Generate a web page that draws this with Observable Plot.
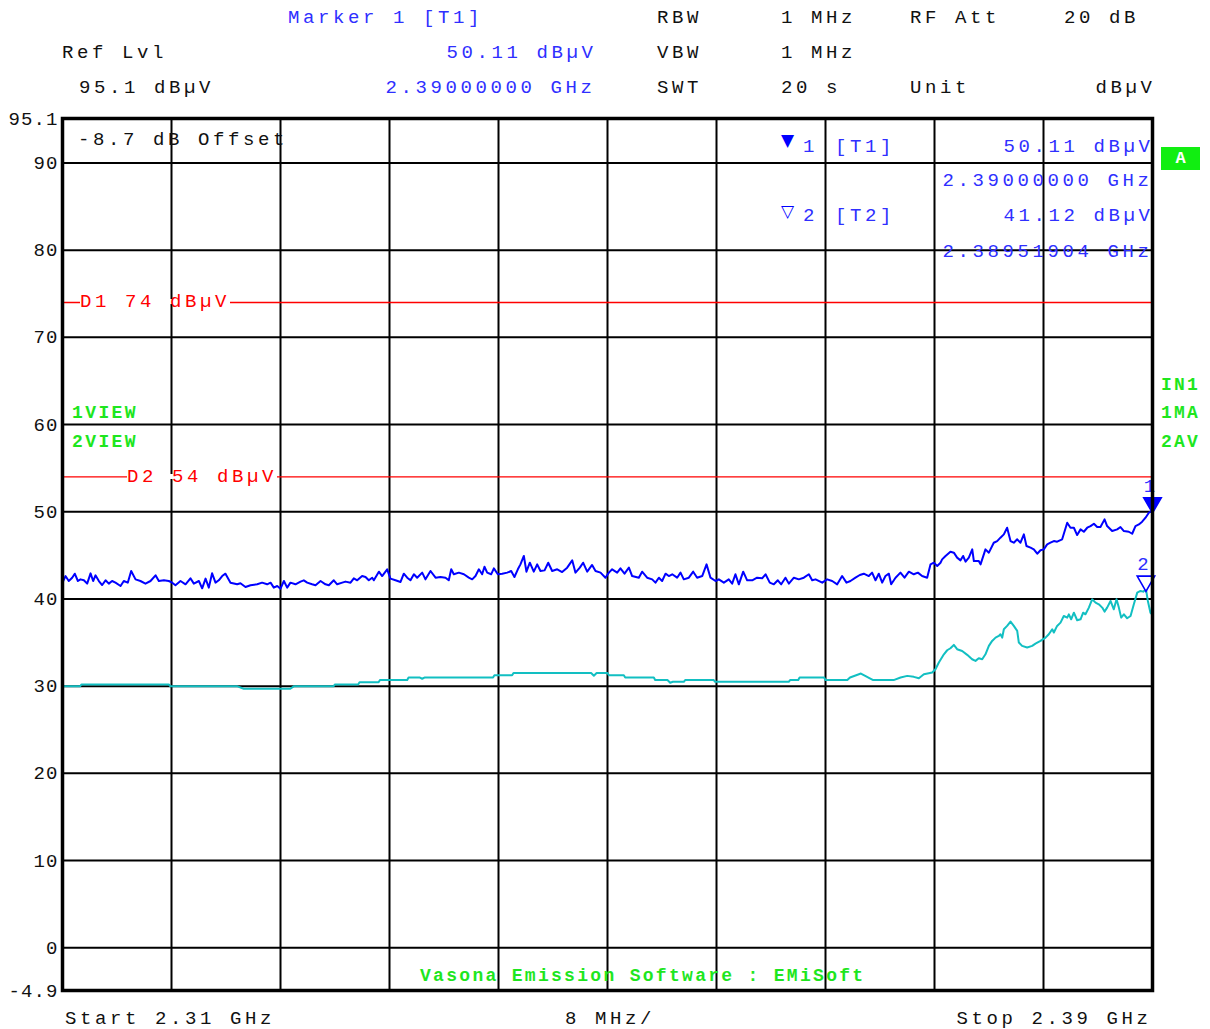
<!DOCTYPE html>
<html>
<head>
<meta charset="utf-8">
<script src="https://cdn.jsdelivr.net/npm/d3@7"></script>
<script src="https://cdn.jsdelivr.net/npm/@observablehq/plot@0.6"></script>
<style>
  html, body { margin: 0; padding: 0; background: #fff; }
  #wrap { position: relative; width: 1210px; height: 1029px; overflow: hidden; background: #fff; }
  #wrap svg { display: block; }
  .lbl { position: absolute; white-space: pre; font-family: "Liberation Mono", monospace; line-height: 19px; font-size: 19px; letter-spacing: 3.6px; color: #111; }
  .ytick text { letter-spacing: 1.1px; }
</style>
</head>
<body>
<div id="wrap"></div>
<script>
// ---- data ----
const startMHz = 2310, stopMHz = 2390;
// Trace 1 (max hold, 1MA): frequency (MHz) and level (dBµV)
const trace1Freq = [
  2310.00, 2310.22, 2310.46, 2310.71, 2310.90, 2311.13, 2311.32, 2311.57, 2311.81, 2312.06,
  2312.25, 2312.42, 2312.67, 2312.91, 2313.16, 2313.40, 2313.64, 2313.89, 2314.26, 2314.50,
  2314.79, 2315.04, 2315.36, 2315.72, 2316.09, 2316.46, 2316.83, 2317.07, 2317.44, 2317.80,
  2318.05, 2318.29, 2318.66, 2319.03, 2319.39, 2319.64, 2320.01, 2320.25, 2320.50, 2320.74,
  2320.98, 2321.23, 2321.47, 2321.72, 2321.96, 2322.33, 2322.82, 2323.06, 2323.43, 2323.80,
  2324.29, 2324.65, 2325.02, 2325.27, 2325.51, 2325.76, 2326.00, 2326.25, 2326.49, 2326.73,
  2327.10, 2327.47, 2327.71, 2327.96, 2328.32, 2328.57, 2328.94, 2329.30, 2329.55, 2329.91,
  2330.16, 2330.53, 2330.77, 2331.14, 2331.38, 2331.63, 2331.99, 2332.24, 2332.48, 2332.73,
  2332.85, 2333.22, 2333.46, 2333.83, 2334.07, 2334.44, 2334.81, 2335.05, 2335.30, 2335.54,
  2335.79, 2336.03, 2336.40, 2336.64, 2337.01, 2337.38, 2337.74,
  2338.11, 2338.35, 2338.53, 2338.72, 2339.09, 2339.46, 2339.82, 2340.07, 2340.31, 2340.56,
  2340.80, 2340.97, 2341.17, 2341.46, 2341.66, 2341.95, 2342.27, 2342.64, 2342.93, 2343.17,
  2343.42, 2343.61, 2343.86, 2344.05, 2344.30, 2344.59, 2344.84, 2345.08, 2345.38, 2345.65,
  2345.94, 2346.31, 2346.67, 2347.04, 2347.41, 2347.65, 2347.97, 2348.21, 2348.51, 2348.87,
  2349.12, 2349.49, 2349.85, 2350.10, 2350.34, 2350.71, 2350.95, 2351.25, 2351.57, 2351.81,
  2352.30, 2352.54, 2352.91, 2353.28, 2353.52, 2353.77, 2354.01, 2354.26, 2354.50, 2354.75,
  2355.11, 2355.36, 2355.60, 2355.97, 2356.29, 2356.58, 2356.95, 2357.27, 2357.56, 2357.93,
  2358.17, 2358.54, 2358.90, 2359.15, 2359.39, 2359.64, 2359.96, 2360.25, 2360.62, 2360.98,
  2361.35, 2361.60, 2361.91, 2362.21, 2362.50, 2362.75, 2363.06, 2363.31, 2363.68, 2364.04,
  2364.41, 2364.78, 2365.02, 2365.27, 2365.76, 2366.12, 2366.49, 2366.86, 2367.22, 2367.54,
  2367.83, 2368.20, 2368.52, 2368.81, 2369.18, 2369.42, 2369.67, 2369.91, 2370.16, 2370.40,
  2370.65, 2370.82, 2371.14, 2371.50, 2371.80, 2372.12, 2372.48, 2372.78, 2373.09, 2373.46,
  2373.71, 2373.95, 2374.20, 2374.44,
  2374.56, 2374.81, 2375.17, 2375.42, 2375.66, 2375.91, 2376.10, 2376.28, 2376.52, 2376.77,
  2376.89, 2377.25, 2377.38, 2377.74, 2377.99, 2378.35, 2378.60, 2378.84, 2379.09, 2379.33,
  2379.58, 2379.82, 2380.07, 2380.31, 2380.56, 2380.75, 2381.05, 2381.29, 2381.54, 2381.78,
  2382.02, 2382.27, 2382.51, 2382.76, 2383.00, 2383.37, 2383.74, 2383.98, 2384.23, 2384.47,
  2384.72, 2384.96, 2385.21, 2385.45, 2385.70, 2385.94, 2386.18, 2386.48, 2386.67, 2387.04,
  2387.41, 2387.65, 2387.90, 2388.26, 2388.51, 2388.75, 2389.00, 2389.24, 2389.49, 2389.73, 2390.00
];
const trace1Vals = [
  41.87, 42.63, 42.06, 42.44, 42.90, 42.06, 42.25, 42.14, 41.76, 42.94,
  42.06, 42.71, 42.06, 41.60, 42.14, 41.76, 42.06, 41.87, 41.49, 42.06,
  41.87, 43.21, 42.25, 42.06, 41.76, 42.06, 42.71, 42.06, 42.14, 42.06,
  41.87, 41.57, 42.06, 41.68, 42.37, 41.76, 42.06, 41.22, 42.33, 41.30,
  42.94, 41.87, 42.14, 42.63, 42.90, 41.87, 41.68, 41.80, 41.38, 41.57,
  41.68, 41.87, 41.68, 41.87, 41.30, 41.49, 41.18, 42.06, 41.30, 41.87,
  41.68, 41.99, 42.14, 41.87, 41.68, 41.57, 42.06, 41.68, 41.57, 42.14,
  41.68, 41.87, 41.99, 41.87, 42.37, 42.14, 42.63, 42.52, 42.14, 42.44,
  42.14, 43.13, 42.63, 43.40, 42.33, 42.14, 41.95, 42.90, 42.44, 42.14,
  42.83, 42.44, 43.02, 42.25, 43.21, 42.44, 42.52,
  42.44, 42.14, 43.40, 42.83, 43.02, 42.83, 42.44, 42.25, 42.63, 43.40,
  42.83, 43.70, 43.02, 42.83, 43.51, 42.83, 42.90, 43.02, 43.21, 42.52,
  43.40, 43.97, 44.93, 43.13, 44.16, 43.13, 43.97, 43.21, 43.28, 44.16,
  43.21, 43.40, 43.09, 43.59, 44.43, 43.02, 43.59, 44.16, 43.13, 43.90,
  43.21, 43.02, 42.44, 43.02, 43.40, 43.02, 43.51, 42.90, 43.59, 42.63,
  42.44, 43.13, 42.44, 42.25, 41.87, 42.44, 42.06, 42.90, 42.63, 42.83,
  42.44, 43.02, 42.25, 42.44, 43.13, 42.44, 42.63, 43.97, 42.44, 42.06,
  42.25, 41.87, 42.25, 41.76, 42.83, 41.68, 43.13, 42.14, 42.14, 42.44,
  42.37, 42.83, 41.87, 41.68, 42.14, 41.68, 42.44, 41.76, 42.44, 42.25,
  42.44, 42.83, 42.14, 42.25, 41.87, 42.25, 42.06, 41.68, 42.63, 41.87,
  42.06, 42.44, 42.75, 42.90, 42.63, 43.02, 42.14, 42.90, 41.87, 42.63,
  42.90, 41.68, 42.44, 43.02, 42.44, 43.13, 42.83, 43.02, 42.63, 42.44,
  43.97, 44.16, 43.78, 44.16,
  44.54, 44.93, 45.42, 45.31, 44.74, 44.43, 44.93, 44.28, 44.74, 45.69,
  44.35, 44.35, 43.97, 45.69, 45.31, 46.45, 46.64, 47.03, 47.41, 48.17,
  46.64, 46.45, 46.84, 46.45, 47.41, 46.07, 45.88, 45.69, 45.19, 45.58,
  45.69, 46.26, 46.45, 46.64, 46.57, 46.84, 48.74, 48.17, 48.17, 47.33,
  47.98, 47.71, 48.17, 48.36, 48.63, 48.25, 48.25, 49.13, 48.36, 47.79,
  47.98, 48.25, 47.79, 47.71, 47.48, 48.36, 48.55, 48.86, 49.32, 49.89, 50.11
];
// Trace 2 (average, 2AV): frequency (MHz) and level (dBµV)
const trace2Freq = [
  2310, 2311.3, 2311.4, 2317.8, 2317.9, 2322.8, 2323.3, 2326.7, 2327.0, 2329.9,
  2330.0, 2331.7, 2331.8, 2333.2, 2333.3, 2335.3, 2335.4, 2336.2, 2336.4, 2336.6,
  2341.6, 2341.7, 2343.0, 2343.1, 2348.8, 2349.0, 2349.2, 2350.0, 2350.1, 2351.2,
  2351.3, 2353.4, 2353.5, 2354.4, 2354.6, 2354.8, 2355.6, 2355.7, 2357.8, 2357.9,
  2363.3, 2363.4, 2364.0, 2364.1, 2365.9, 2366.0, 2367.6, 2367.8, 2368.6, 2369.5, 2371.0,
  2371.51, 2372.00, 2372.48, 2372.85, 2373.22, 2373.58, 2373.83, 2374.07, 2374.32, 2374.69,
  2374.93, 2375.17, 2375.42, 2375.66, 2376.03, 2376.40, 2376.76, 2377.01, 2377.25, 2377.50,
  2377.74, 2377.99, 2378.23, 2378.48, 2378.72, 2378.84, 2378.97, 2379.09, 2379.33, 2379.58,
  2379.82, 2380.07, 2380.19, 2380.43, 2380.80, 2381.17, 2381.41, 2381.78, 2382.15, 2382.39,
  2382.64, 2382.76, 2383.00, 2383.25, 2383.49, 2383.74, 2383.86, 2384.03, 2384.23, 2384.47,
  2384.72, 2384.91, 2385.08, 2385.33, 2385.57, 2385.82, 2386.06, 2386.31, 2386.48, 2386.67,
  2386.92, 2387.16, 2387.36, 2387.53, 2387.70, 2387.90, 2388.14, 2388.39, 2388.63, 2388.88,
  2389.12, 2389.32, 2389.52, 2389.66, 2389.85, 2390.00
];
const trace2Vals = [
  30.0, 30.0, 30.2, 30.2, 30.0, 30.0, 29.7, 29.7, 30.0, 30.0,
  30.2, 30.2, 30.45, 30.45, 30.7, 30.7, 31.0, 31.0, 30.85, 31.0,
  31.0, 31.25, 31.25, 31.5, 31.5, 31.2, 31.5, 31.5, 31.25, 31.25,
  31.0, 31.0, 30.7, 30.7, 30.4, 30.5, 30.5, 30.7, 30.7, 30.5,
  30.5, 30.7, 30.7, 31.0, 31.0, 30.7, 30.7, 31.0, 31.45, 30.7, 30.7,
  30.99, 31.18, 31.07, 30.91, 31.37, 31.49, 31.56, 31.94, 32.71, 33.66,
  34.12, 34.35, 34.73, 34.24, 34.04, 33.59, 33.09, 32.90, 33.21, 33.09,
  33.66, 34.62, 35.19, 35.57, 35.76, 35.95, 35.57, 36.53, 36.91, 37.41,
  36.91, 36.34, 35.00, 34.62, 34.43, 34.62, 34.88, 35.19, 35.57, 35.95,
  36.53, 36.15, 36.91, 37.29, 38.05, 37.86, 38.24, 37.67, 38.43, 37.56,
  37.67, 38.43, 38.24, 39.01, 39.96, 39.58, 39.39, 39.01, 38.55, 39.01,
  39.77, 38.82, 39.96, 39.01, 37.86, 38.24, 37.79, 38.05, 39.39, 40.73,
  40.92, 40.84, 41.12, 39.77, 38.43, 38.2
];
// Display lines
const limitNames = ["D1", "D2"];
const limitVals = [74, 54];
// Markers
const markerNames = ["1", "2"];
const markerFreq = [2390.0, 2389.51904];
const markerVals = [50.11, 41.12];
// Axis
const yMin = -4.9, yMax = 95.1;
const yTicks = [-4.9, 0, 10, 20, 30, 40, 50, 60, 70, 80, 90, 95.1];
const xDivs = [2318, 2326, 2334, 2342, 2350, 2358, 2366, 2374, 2382];
const yDivs = [0, 10, 20, 30, 40, 50, 60, 70, 80, 90];

// ---- build ----
const t1 = trace1Freq.map((f, i) => ({f, v: trace1Vals[i]}));
const t2 = trace2Freq.map((f, i) => ({f, v: trace2Vals[i]}));
const markers = markerNames.map((n, i) => ({n, f: markerFreq[i], v: markerVals[i]}));

const BLUE = "#0000ff", TBLUE = "#2f2fff", CYAN = "#12bfc2", RED = "#ff0000", GREEN = "#1ee61e";

const chart = Plot.plot({
  width: 1210, height: 1029,
  marginTop: 118, marginBottom: 39, marginLeft: 62, marginRight: 58,
  x: {domain: [startMHz, stopMHz], axis: null},
  y: {domain: [yMin, yMax], axis: null},
  style: {fontFamily: "Liberation Mono, monospace", background: "white", overflow: "visible"},
  marks: [
    Plot.gridX(xDivs, {stroke: "#000", strokeOpacity: 1, strokeWidth: 2}),
    Plot.gridY(yDivs, {stroke: "#000", strokeOpacity: 1, strokeWidth: 2}),
    Plot.ruleY(limitVals, {stroke: RED, strokeWidth: 1.3}),
    Plot.line(t2, {x: "f", y: "v", stroke: CYAN, strokeWidth: 2}),
    Plot.line(t1, {x: "f", y: "v", stroke: BLUE, strokeWidth: 2}),
    Plot.dot(markers, {x: "f", y: "v", symbol: "triangle", r: 6.5, rotate: 180, dy: -8,
      fill: (d, i) => i === 0 ? BLUE : "white", stroke: BLUE, strokeWidth: 1.6}),
    Plot.text(markers, {x: "f", y: "v", text: "n", dy: -25, dx: -3, fill: TBLUE, fontSize: 19}),
    Plot.frame({stroke: "#000", strokeWidth: 3.5}),
    Plot.axisY(yTicks, {label: null, tickSize: 0, tickPadding: 4, tickFormat: d => String(d), fontSize: 19, fill: "#111", className: "ytick"})
  ]
});
const wrap = document.getElementById("wrap");
wrap.appendChild(chart);

// ---- text labels (layout) ----
function lbl(text, x, cy, opt = {}) {
  const s = document.createElement("span");
  s.className = "lbl";
  s.textContent = text;
  const size = opt.size || 19;
  s.style.fontSize = size + "px";
  s.style.lineHeight = size + "px";
  if (opt.ls != null) s.style.letterSpacing = opt.ls + "px";
  if (opt.color) s.style.color = opt.color;
  if (opt.bold) s.style.fontWeight = "bold";
  if (opt.family) s.style.fontFamily = opt.family;
  s.style.top = (cy - size * 0.44) + "px";
  if (opt.anchor === "end") s.style.right = (1210 - x - (opt.ls != null ? opt.ls : 3.6)) + "px";
  else s.style.left = x + "px";
  if (opt.bg) s.style.background = opt.bg;
  wrap.appendChild(s);
  return s;
}
// header
lbl("Marker 1 [T1]", 288, 17, {color: TBLUE});
lbl("RBW", 657, 17); lbl("1 MHz", 781, 17); lbl("RF Att", 910, 17); lbl("20 dB", 1064, 17);
lbl("Ref Lvl", 62, 52); lbl("50.11 dBµV", 593, 52, {color: TBLUE, anchor: "end"});
lbl("VBW", 657, 52); lbl("1 MHz", 781, 52);
lbl("95.1 dBµV", 79, 87); lbl("2.39000000 GHz", 592, 87, {color: TBLUE, anchor: "end"});
lbl("SWT", 657, 87); lbl("20 s", 781, 87); lbl("Unit", 910, 87); lbl("dBµV", 1152, 87, {anchor: "end"});
// footer
lbl("Start 2.31 GHz", 65, 1018); lbl("8 MHz/", 565, 1018); lbl("Stop 2.39 GHz", 1148, 1018, {anchor: "end"});
// in-frame annotations
lbl("-8.7 dB Offset", 78, 139);
const lineBg = "linear-gradient(to bottom, transparent 6px, #fff 6px, #fff 11px, transparent 11px)";
lbl(limitNames[0] + " " + limitVals[0] + " dBµV", 80, 301.5, {color: RED, bg: lineBg});
lbl(limitNames[1] + " " + limitVals[1] + " dBµV", 127, 476.5, {color: RED, bg: lineBg});
lbl("1VIEW", 72, 412, {color: GREEN, bold: true, size: 18, ls: 2.4});
lbl("2VIEW", 72, 441, {color: GREEN, bold: true, size: 18, ls: 2.4});
lbl("IN1", 1161, 384, {color: GREEN, bold: true, size: 18, ls: 2.2});
lbl("1MA", 1161, 412, {color: GREEN, bold: true, size: 18, ls: 2.2});
lbl("2AV", 1161, 441, {color: GREEN, bold: true, size: 18, ls: 2.2});
lbl("Vasona Emission Software : EMiSoft", 420, 975, {color: GREEN, bold: true, size: 18, ls: 2.3});
// marker table
lbl("▼", 781, 139, {color: BLUE, size: 17, ls: 0, family: "DejaVu Sans"});
lbl("1", 803, 146, {color: TBLUE});
lbl("[T1]", 835, 146, {color: TBLUE});
lbl("50.11 dBµV", 1150, 146, {color: TBLUE, anchor: "end"});
lbl("2.39000000 GHz", 1149, 180, {color: TBLUE, anchor: "end"});
lbl("▽", 781, 210, {color: BLUE, size: 17, ls: 0, family: "DejaVu Sans"});
lbl("2", 803, 215, {color: TBLUE});
lbl("[T2]", 835, 215, {color: TBLUE});
lbl("41.12 dBµV", 1150, 215, {color: TBLUE, anchor: "end"});
lbl("2.38951904 GHz", 1149, 251, {color: TBLUE, anchor: "end"});
// "A" badge
const a = document.createElement("div");
a.textContent = "A";
Object.assign(a.style, {position: "absolute", left: "1161px", top: "147px", width: "39px", height: "23px",
  background: "#11ee11", color: "#fff", fontFamily: "Liberation Mono, monospace", fontWeight: "bold",
  fontSize: "17px", lineHeight: "23px", textAlign: "center"});
wrap.appendChild(a);
</script>
</body>
</html>
